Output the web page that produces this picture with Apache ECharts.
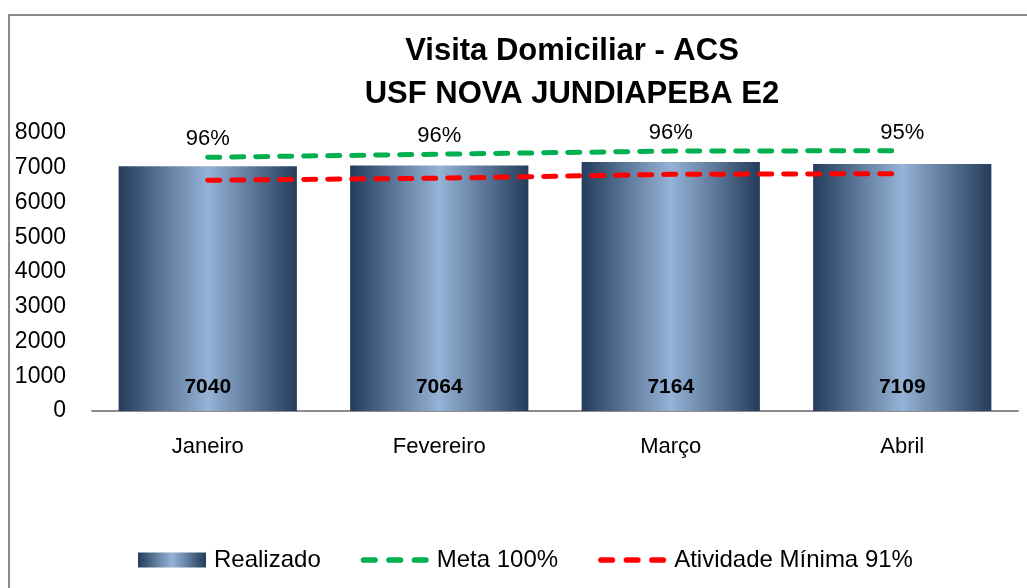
<!DOCTYPE html>
<html><head><meta charset="utf-8">
<script src="https://cdn.jsdelivr.net/npm/echarts@6/dist/echarts.min.js"></script>
<style>html,body{margin:0;padding:0;background:#fff}#c{width:1027px;height:588px}</style>
</head><body><div id="c"></div>
<script>
const categories = ['Janeiro', 'Fevereiro', 'Março', 'Abril'];
const realizado = [7040, 7064, 7164, 7109];
const meta = [7300, 7390, 7480, 7490];
const minima = [6640, 6700, 6810, 6830];
const pctLabels = ['96%', '96%', '96%', '95%'];
const yTicks = [0, 1000, 2000, 3000, 4000, 5000, 6000, 7000, 8000];

const FONT = 'Liberation Sans';
const barGrad = new echarts.graphic.LinearGradient(0, 0, 1, 0, [
  {offset: 0, color: '#253C5C'},
  {offset: 0.12, color: '#3F5878'},
  {offset: 0.5, color: '#95B3D7'},
  {offset: 0.88, color: '#3F5878'},
  {offset: 1, color: '#253C5C'}
]);
const dashIcon = 'path://M3,0h12a3,3 0 0 1 0,6h-12a3,3 0 0 1 0,-6z M30,0h12a3,3 0 0 1 0,6h-12a3,3 0 0 1 0,-6z M57,0h12a3,3 0 0 1 0,6h-12a3,3 0 0 1 0,-6z';

const chart = echarts.init(document.getElementById('c'), null, {renderer: 'canvas'});
chart.setOption({
  animation: false,
  backgroundColor: '#fff',
  title: {
    text: 'Visita Domiciliar - ACS\nUSF NOVA JUNDIAPEBA E2',
    left: 567, top: 25, textAlign: 'center',
    textStyle: {fontFamily: FONT, fontWeight: 'bold', fontSize: 31, lineHeight: 43, color: '#000'}
  },
  graphic: [{
    type: 'rect', shape: {x: 9, y: 15, width: 1100, height: 700},
    style: {fill: 'none', stroke: '#8C8C8C', lineWidth: 2}, silent: true, z: -1
  }],
  legend: {
    left: 133, top: 543,
    itemWidth: 68, itemHeight: 15, itemGap: 40,
    textStyle: {fontFamily: FONT, fontSize: 24, color: '#000', padding: [0, 0, 0, 3]},
    data: [
      {name: 'Realizado', icon: 'rect'},
      {name: 'Meta 100%', icon: dashIcon},
      {name: 'Atividade Mínima 91%', icon: dashIcon}
    ]
  },
  grid: {left: 92, right: 9, top: 133, bottom: 177, containLabel: false},
  xAxis: {
    type: 'category', data: categories,
    axisLine: {lineStyle: {color: '#8C8C8C', width: 2}},
    axisTick: {show: false},
    axisLabel: {fontFamily: FONT, fontSize: 22, color: '#000', margin: 25}
  },
  yAxis: {
    type: 'value', min: yTicks[0], max: yTicks[yTicks.length - 1], interval: 1000,
    axisLine: {show: false}, axisTick: {show: false}, splitLine: {show: false},
    axisLabel: {fontFamily: FONT, fontSize: 23, color: '#000', margin: 26, formatter: v => String(v)}
  },
  series: [
    {
      name: 'Realizado', type: 'bar', data: realizado, barCategoryGap: '23%',
      itemStyle: {color: barGrad},
      label: {show: true, position: 'insideBottom', distance: 13,
        fontFamily: FONT, fontWeight: 'bold', fontSize: 21, color: '#000'}
    },
    {
      name: 'Meta 100%', type: 'line', data: meta, symbol: 'none',
      itemStyle: {color: '#00B050'},
      lineStyle: {color: '#00B050', width: 5, type: [12, 12], cap: 'round'},
      z: 3
    },
    {
      name: 'Atividade Mínima 91%', type: 'line', data: minima, symbol: 'none',
      itemStyle: {color: '#FF0000'},
      lineStyle: {color: '#FF0000', width: 5, type: [12, 12], cap: 'round'},
      z: 3
    },
    {
      name: 'pct', type: 'scatter', data: meta, symbolSize: 0,
      itemStyle: {color: '#000', opacity: 1},
      label: {show: true, position: 'top', distance: 7,
        formatter: p => pctLabels[p.dataIndex],
        fontFamily: FONT, fontSize: 22, color: '#000', opacity: 1},
      z: 4
    }
  ]
});
</script></body></html>
